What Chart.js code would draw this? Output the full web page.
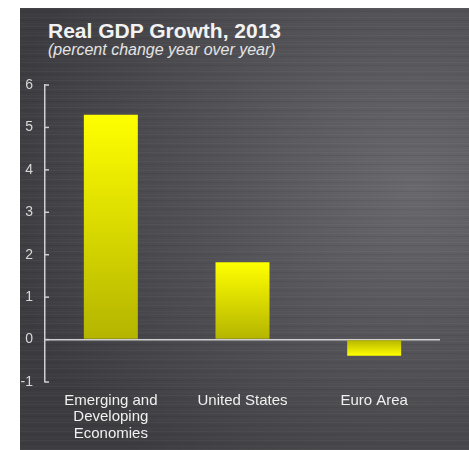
<!DOCTYPE html>
<html>
<head>
<meta charset="utf-8">
<script src="https://cdn.jsdelivr.net/npm/chart.js@4.4.1/dist/chart.umd.min.js"></script>
<style>
  html, body { margin: 0; padding: 0; background: #fff; }
  .panel {
    position: absolute; left: 20px; top: 8px; width: 449px; height: 442px;
    background:
      repeating-linear-gradient(180deg, rgba(255,255,255,0.035) 0 1px, rgba(0,0,0,0) 1px 3px, rgba(0,0,0,0.06) 3px 4px, rgba(0,0,0,0) 4px 6px, rgba(255,255,255,0.02) 6px 7px, rgba(0,0,0,0) 7px 9px),
      radial-gradient(ellipse 420px 360px at 88% 40%, #69696d 0%, #525256 50%, #3c3c40 100%);
    font-family: "Liberation Sans", Arial, sans-serif;
  }
  .title { position: absolute; left: 28px; top: 12px; font-size: 21px; line-height: 21px; font-weight: bold; color: #f2f2f2; white-space: nowrap; }
  .sub { position: absolute; left: 28px; top: 34px; font-size: 16px; line-height: 16px; font-style: italic; color: #e4e4e4; white-space: nowrap; }
  #chart { position: absolute; left: 0; top: 0; }
</style>
</head>
<body>
<div class="panel">
  <div class="title">Real GDP Growth, 2013</div>
  <div class="sub">(percent change year over year)</div>
  <canvas id="chart" width="449" height="442"></canvas>
</div>
<script>
const regions = [["Emerging and", "Developing", "Economies"], "United States", "Euro Area"];
const growth = [5.3, 1.82, -0.38];
const yTicks = [-1, 0, 1, 2, 3, 4, 5, 6];

// short tick marks on the inside of the y axis
const innerTicks = {
    id: 'innerTicks',
    afterDraw(chart) {
        const y = chart.scales.y;
        const ctx = chart.ctx;
        const left = chart.chartArea.left;
        ctx.save();
        ctx.strokeStyle = '#cfcfcf';
        ctx.lineWidth = 1.5;
        y.ticks.forEach((t) => {
            const py = y.getPixelForValue(t.value);
            ctx.beginPath();
            ctx.moveTo(left, py);
            ctx.lineTo(left + 4, py);
            ctx.stroke();
        });
        ctx.restore();
    }
};

function barFill(c) {
    const chart = c.chart;
    if (!chart.chartArea || c.parsed === undefined) return '#e6e600';
    const y = chart.scales.y;
    const base = y.getPixelForValue(0);
    const tip = y.getPixelForValue(c.parsed.y);
    const g = chart.ctx.createLinearGradient(0, tip, 0, base);
    g.addColorStop(0, '#ffff00');
    g.addColorStop(1, '#b4b400');
    return g;
}

new Chart(document.getElementById('chart'), {
    type: 'bar',
    data: {
        labels: regions,
        datasets: [{
            data: growth,
            backgroundColor: barFill,
            borderWidth: 0,
            categoryPercentage: 1,
            barPercentage: 0.41
        }]
    },
    options: {
        responsive: false,
        animation: false,
        layout: { padding: { top: 77, right: 29, left: 0, bottom: 0 } },
        plugins: { legend: { display: false }, tooltip: { enabled: false } },
        scales: {
            x: {
                grid: { display: false, drawTicks: false },
                border: { display: false },
                ticks: {
                    color: '#f0f0f0',
                    padding: 10,
                    maxRotation: 0,
                    font: { family: 'Liberation Sans', size: 15, lineHeight: 1.12 }
                },
                afterFit(scale) { scale.height = 68; }
            },
            y: {
                min: -1,
                max: 6,
                afterBuildTicks(scale) { scale.ticks = yTicks.map((v) => ({ value: v })); },
                grid: {
                    drawTicks: false,
                    color: (c) => (c.tick && c.tick.value === 0 ? '#cfcfcf' : 'rgba(0,0,0,0)'),
                    lineWidth: 1.5
                },
                border: { color: '#cfcfcf', width: 1.5 },
                ticks: {
                    color: '#d8d8d8',
                    padding: 12,
                    font: { family: 'Liberation Sans', size: 14 }
                },
                afterFit(scale) { scale.width = 25; }
            }
        }
    },
    plugins: [innerTicks]
});
</script>
</body>
</html>
